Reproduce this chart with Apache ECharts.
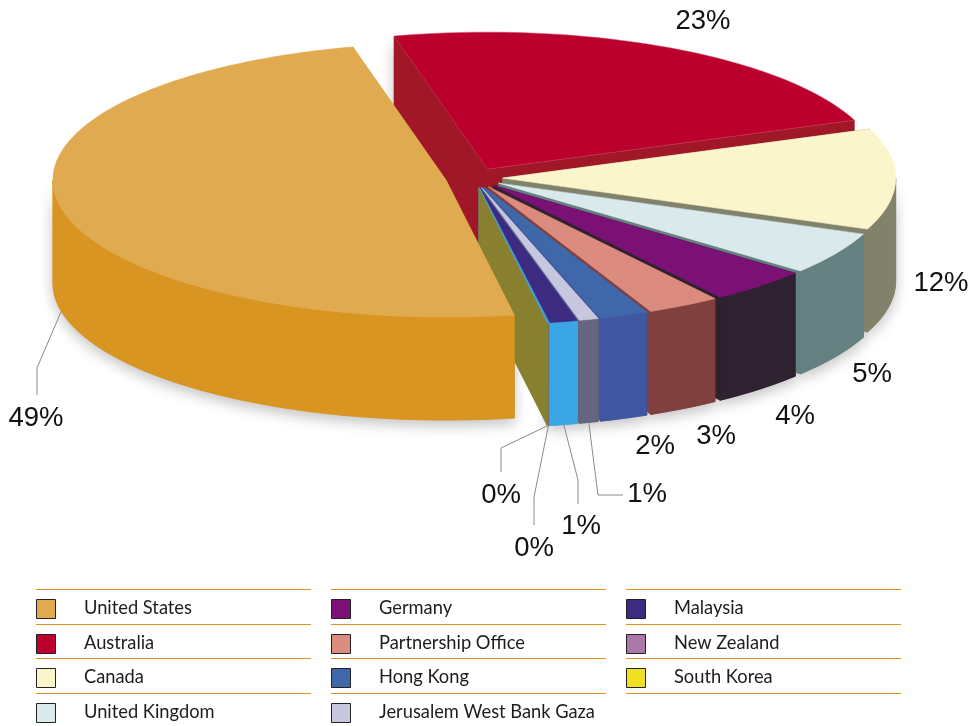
<!DOCTYPE html>
<html>
<head>
<meta charset="utf-8">
<style>html,body{margin:0;padding:0;background:#fff}#c{width:971px;height:726px}</style>
<script src="https://cdn.jsdelivr.net/npm/echarts@6/dist/echarts.min.js"></script>
</head>
<body>
<div id="c"></div>
<script>
// ---- data (slice sizes in percent of the full turn)
var categories = ['United States','Australia','Canada','United Kingdom','Germany','Partnership Office','Hong Kong','Jerusalem West Bank Gaza','Malaysia','New Zealand','South Korea'];
var values     = [49.0, 23.0, 11.9, 5.0, 4.15, 3.0, 2.0, 0.8, 1.15, 0.03, 0.03];
var topColors  = ['#E0AB50','#BC002D','#FBF5CC','#DAE9EC','#7B1075','#DC8C7E','#3F68AA','#C7C8E0','#3C2B80','#AB78A8','#EFE022'];
var wallColors = ['#D99522','#A01828','#82826A','#658080','#2E2230','#804040','#3F57A0','#656580','#3AA6E6','#6B5A80','#88802E'];
var cutColors  = ['#D99522','#A01828','#82826A','#658080','#2E2230','#804040','#3F57A0','#656580','#3AA6E6','#3AA6E6','#88802E'];

// ---- layout
var CX = 474, CY = 178, RX = 393, RY = 137, DEPTH = 103, EXPLODE = 0.073, START = 170;
var labelCentres = [[36,418],[703,21],[941,283],[872,374],[795,416],[716,436],[655,446],[647,494],[581,526],[534,548],[501,495]];
var leaderBends = [[[37,368],[37,395]],null,null,null,null,null,null,[[598,495],[623,495]],[[578,480],[578,504]],[[534,497],[534,525]],[[501,448],[501,472]]];
var legendCols = [36,331,626], legendRowsY = [589,624,658,693], legendRuleWidth = 275;
var legendColumns = [[0,1,2,3],[4,5,6,7],[8,9,10]];

var total = values.reduce(function(a,b){return a+b;},0);
function rad(d){return d*Math.PI/180;}
function pt(c,a,dy){return [c[0]+RX*Math.sin(rad(a)), c[1]-RY*Math.cos(rad(a))+(dy||0)];}
function arc(c,a0,a1,dy){var n=Math.max(2,Math.ceil(Math.abs(a1-a0)/1.5)),r=[];for(var i=0;i<=n;i++){r.push(pt(c,a0+(a1-a0)*i/n,dy));}return r;}
function sliceAngles(i){var s=START;for(var k=0;k<i;k++){s+=values[k]/total*360;}return [s,s+values[i]/total*360];}

function renderSlice(params, api){
  var i = params.dataIndex, v = api.value(0), n = values.length;
  var ang = sliceAngles(i), a0 = ang[0], a1 = ang[1], mid = (a0+a1)/2;
  var c = [CX+EXPLODE*RX*Math.sin(rad(mid)), CY-EXPLODE*RY*Math.cos(rad(mid))];
  var order = ((i-1+n)%n)+1, kids = [], tiny = v < 0.1;
  function poly(points, fill, z, extra){
    var st = {fill:fill, stroke:fill, lineWidth:0.6};
    if(extra){for(var k in extra){st[k]=extra[k];}}
    kids.push({type:'polygon', z2:z, silent:true, shape:{points:points}, style:st});
  }
  var shadow = {shadowBlur:14, shadowColor:'rgba(0,0,0,0.24)', shadowOffsetY:5, shadowOffsetX:0};
  function face(a){var p=pt(c,a),q=pt(c,a,DEPTH);return [c.slice(),p,q,[c[0],c[1]+DEPTH]];}
  if(i===1){poly(face(a0),cutColors[i],0,shadow);}
  poly(face(a0),cutColors[i],order);
  poly(face(a1),cutColors[i],order);
  [[90,270],[450,630]].forEach(function(w){
    var s=Math.max(a0,w[0]), e=Math.min(a1,w[1]);
    if(e>s){
      var pts=arc(c,s,e).concat(arc(c,e,s,DEPTH));
      poly(pts,wallColors[i],0,shadow);
      poly(pts,wallColors[i],order);
    }
  });
  var edge = i===1 ? {stroke:'#C8405F',lineWidth:0.5} : (tiny ? {stroke:wallColors[8],lineWidth:0.5} : {});
  poly([c.slice()].concat(arc(c,a0,a1)),tiny?wallColors[8]:topColors[i],order+0.5,edge);

  var lc = labelCentres[i];
  kids.push({type:'text', z2:200, silent:true, x:lc[0], y:lc[1], style:{
    text:Math.round(v)+'%', fill:'#111', font:'27.5px "Liberation Sans", Arial, sans-serif', align:'center', verticalAlign:'middle'}});
  if(leaderBends[i]){
    kids.push({type:'polyline', z2:150, silent:true,
      shape:{points:[pt(c,mid,DEPTH)].concat(leaderBends[i])},
      style:{fill:'none', stroke:'#8a8a8a', lineWidth:1}});
  }
  return {type:'group', children:kids};
}

var graphics = [];
legendCols.forEach(function(x,ci){
  legendRowsY.forEach(function(y){
    graphics.push({type:'line',silent:true,shape:{x1:x,y1:y+.5,x2:x+legendRuleWidth,y2:y+.5},style:{stroke:'#DD9420',lineWidth:1}});
  });
  legendColumns[ci].forEach(function(idx,r){
    var y = legendRowsY[r];
    graphics.push({type:'rect',silent:true,shape:{x:x+.5,y:y+10.5,width:19,height:19},style:{fill:topColors[idx],stroke:'#222',lineWidth:1}});
    graphics.push({type:'text',silent:true,x:x+48,y:y+19.5,style:{text:categories[idx],fill:'#1c1c1c',font:'18.3px Lato, sans-serif',align:'left',verticalAlign:'middle'}});
  });
});

var chart = echarts.init(document.getElementById('c'), null, {renderer:'canvas', width:971, height:726});
chart.setOption({
  animation:false,
  backgroundColor:'#fff',
  graphic:{elements:graphics},
  series:[{
    type:'custom',
    coordinateSystem:'none',
    renderItem:renderSlice,
    silent:true,
    data:values.map(function(v,i){return {name:categories[i], value:[v]};})
  }]
});
</script>
</body>
</html>
